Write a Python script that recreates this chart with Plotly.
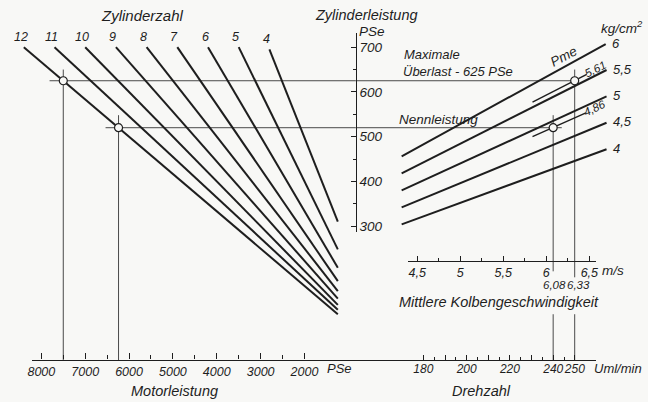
import plotly.graph_objects as go

# ---------------- data ----------------
cylinder_counts = [12, 11, 10, 9, 8, 7, 6, 5, 4]
cyl_start_motor = [8400, 7700, 7000, 6300, 5600, 4900, 4200, 3500, 2800]
cyl_start_power = [700, 700, 700, 700, 700, 700, 700, 700, 695]
cyl_end_motor = [1240, 1240, 1240, 1240, 1240, 1240, 1240, 1240, 1240]
cyl_end_power = [103, 113, 124, 138, 155, 177, 207, 248, 310]

pme_labels = ["6", "5,5", "5", "4,5", "4"]
pme_cm_start = [4.32, 4.32, 4.32, 4.32, 4.32]
pme_cm_end = [6.69, 6.70, 6.70, 6.70, 6.70]
pme_power_start = [456, 418, 380, 342, 304]
pme_power_end = [707, 649, 590, 531, 472]

op_labels = ["5,61", "4,86"]
op_cm_start = [5.84, 5.84]
op_cm_end = [6.47, 6.46]
op_power_start = [577, 500]
op_power_end = [639, 553]

op_power = [625, 520]          # Zylinderleistung PSe
op_motor = [7500, 6240]        # Motorleistung PSe
op_cm = [6.33, 6.08]           # m/s
op_rpm = [250, 240]            # U/min
op_cm_text = ["6,33", "6,08"]
op_top_power = [650, 548]      # where the thin vertical lines start

motor_ticks = [8000, 7000, 6000, 5000, 4000, 3000, 2000]
motor_minor = [7500, 6500, 5500, 4500, 3500, 2500]
rpm_ticks = [180, 190, 200, 210, 220, 230, 240, 250]
rpm_ticktext = ["180", " ", "200", " ", "220", " ", "240", "250"]
rpm_minor = [185, 195, 205, 215, 225, 235, 245]
cm_ticks = [4.5, 5, 5.5, 6, 6.5]
cm_ticktext = ["4,5", "5", "5,5", "6", "6,5"]
cm_minor = [4.75, 5.25, 5.75, 6.25]
power_ticks = [300, 400, 500, 600, 700]
power_minor = [350, 450, 550, 650]

# ---------------- layout calibration (value <-> pixel) ----------------
W, H = 648, 402
MOTOR_CAL = (8000, 37.7, 2000, 303.3)
POWER_CAL = (700, 47.3, 300, 226.7)
CM_CAL = (4.5, 417.0, 6.5, 590.8)
RPM_CAL = (180, 423.3, 250, 576.2)


def val(cal, p):
    v1, p1, v2, p2 = cal
    return v1 + (p - p1) * (v2 - v1) / (p2 - p1)


BG = "#f8f8f6"
INK = "#1e1e1e"
THIN = "#4a4a4a"
FONT = "Liberation Sans"


def tf(size):
    return dict(family=FONT, size=size, color=INK, style="italic")


fig = go.Figure()

# thin reference lines – left part
for m, p, top in zip(op_motor, op_power, op_top_power):
    fig.add_trace(go.Scatter(x=[m, m], y=[top, 0], mode="lines",
                             line=dict(color=THIN, width=1), xaxis="x", yaxis="y"))
AXIS_MOTOR = val(MOTOR_CAL, 355)
AXIS_CM = val(CM_CAL, 355)
h_left_start = [val(MOTOR_CAL, 46), val(MOTOR_CAL, 102.5)]
h_right_end = [6.38, 6.18]
for p, xs, xe in zip(op_power, h_left_start, h_right_end):
    fig.add_trace(go.Scatter(x=[xs, AXIS_MOTOR], y=[p, p], mode="lines",
                             line=dict(color=THIN, width=1), xaxis="x", yaxis="y"))
    fig.add_trace(go.Scatter(x=[AXIS_CM, xe], y=[p, p], mode="lines",
                             line=dict(color=THIN, width=1), xaxis="x2", yaxis="y"))
# thin vertical lines – right part (broken for the labels)
gap_top = [val(POWER_CAL, 278), val(POWER_CAL, 272)]
gap_bot = val(POWER_CAL, 315)
for c, top, gt in zip(op_cm, [650, 548], gap_top):
    fig.add_trace(go.Scatter(x=[c, c, None, c, c], y=[top, gt, None, gap_bot, 0], mode="lines",
                             line=dict(color=THIN, width=1), xaxis="x2", yaxis="y"))

# cylinder lines
for n, xs, ys, xe, ye in zip(cylinder_counts, cyl_start_motor, cyl_start_power,
                             cyl_end_motor, cyl_end_power):
    fig.add_trace(go.Scatter(x=[xs, xe], y=[ys, ye], mode="lines",
                             line=dict(color=INK, width=2), xaxis="x", yaxis="y"))
    fig.add_annotation(x=xs, y=ys, xref="x", yref="y", text=str(n), showarrow=False,
                       xanchor="center", yanchor="bottom", xshift=-3, yshift=1, font=tf(12.5))

# pme lines
for lab, cs, ce, ps, pe in zip(pme_labels, pme_cm_start, pme_cm_end,
                               pme_power_start, pme_power_end):
    fig.add_trace(go.Scatter(x=[cs, ce], y=[ps, pe], mode="lines",
                             line=dict(color=INK, width=2), xaxis="x2", yaxis="y"))
    fig.add_annotation(x=ce, y=pe, xref="x2", yref="y", text=lab, showarrow=False,
                       xanchor="left", yanchor="middle", xshift=4, yshift=1, font=tf(13))

for lab, cs, ce, ps, pe in zip(op_labels, op_cm_start, op_cm_end, op_power_start, op_power_end):
    fig.add_trace(go.Scatter(x=[cs, ce], y=[ps, pe], mode="lines",
                             line=dict(color=INK, width=1.4), xaxis="x2", yaxis="y"))

# operating points
fig.add_trace(go.Scatter(x=op_motor, y=op_power, mode="markers", xaxis="x", yaxis="y",
                         marker=dict(size=8, color=BG, line=dict(color=INK, width=1.2))))
fig.add_trace(go.Scatter(x=op_cm, y=op_power, mode="markers", xaxis="x2", yaxis="y",
                         marker=dict(size=8, color=BG, line=dict(color=INK, width=1.2))))

# dummy traces so that the visible scale axes are drawn
for xa, ya in [("x3", "y"), ("x4", "y"), ("x5", "y"), ("x", "y2")]:
    fig.add_trace(go.Scatter(x=[None], y=[None], xaxis=xa, yaxis=ya, mode="lines"))

# ---------------- text ----------------
def ptext(x, y, text, size, angle=0, xanchor="center"):
    fig.add_annotation(x=x / W, y=1 - y / H, xref="paper", yref="paper", text=text,
                       showarrow=False, xanchor=xanchor, yanchor="middle",
                       textangle=angle, font=tf(size))


ptext(140, 16, "Zylinderzahl", 15)
ptext(366, 15, "Zylinderleistung", 14.5)
ptext(371, 32, "PSe", 13.5)
ptext(402, 55, "Maximale", 13, xanchor="left")
ptext(401, 72, "Überlast - 625 PSe", 13, xanchor="left")
ptext(397, 120, "Nennleistung", 13.5, xanchor="left")
ptext(624, 27, "kg/cm<sup>2</sup>", 13.5)
ptext(565, 57, "Pme", 13.5, angle=-28)
ptext(597, 69, op_labels[0], 11.5, angle=-27)
ptext(596, 108, op_labels[1], 11.5, angle=-25)
ptext(556, 286, op_cm_text[1], 11.5)
ptext(580, 286, op_cm_text[0], 11.5)
ptext(615, 271, "m/s", 13.5)
ptext(500, 303, "Mittlere Kolbengeschwindigkeit", 14.5)
ptext(339, 369, "PSe", 13)
ptext(620, 369, "Uml/min", 13)
ptext(172, 392, "Motorleistung", 14.5)
ptext(482, 392, "Drehzahl", 14.5)

# ---------------- axes ----------------
AX_Y = (H - 360.5) / H
CM_Y = (H - 261.5) / H
hidden = dict(visible=False, fixedrange=True)
common_tick = dict(ticks="inside", tickcolor=INK, tickwidth=1,
                   tickangle=0, showgrid=False, zeroline=False, fixedrange=True)

fig.update_layout(
    width=W, height=H, margin=dict(l=0, r=0, t=0, b=0),
    paper_bgcolor=BG, plot_bgcolor="rgba(0,0,0,0)", showlegend=False,
    hovermode=False,
    xaxis=dict(domain=[0, 1], range=[val(MOTOR_CAL, 0), val(MOTOR_CAL, W)], **hidden),
    xaxis2=dict(domain=[0, 1], overlaying="x", range=[val(CM_CAL, 0), val(CM_CAL, W)], **hidden),
    yaxis=dict(domain=[0, 1], range=[val(POWER_CAL, H), val(POWER_CAL, 0)], **hidden),
    xaxis3=dict(domain=[28 / W, 598 / W], range=[val(MOTOR_CAL, 28), val(MOTOR_CAL, 598)],
                anchor="free", position=AX_Y, showline=True, linecolor=INK, linewidth=1.3,
                tickvals=motor_ticks, ticktext=[str(t) for t in motor_ticks], ticklen=6,
                tickfont=tf(12.5),
                minor=dict(tickvals=motor_minor, ticks="inside", ticklen=4, tickcolor=INK, tickwidth=1),
                **common_tick),
    xaxis4=dict(domain=[28 / W, 598 / W], range=[val(RPM_CAL, 28), val(RPM_CAL, 598)],
                anchor="free", position=AX_Y, showline=False,
                tickvals=rpm_ticks, ticktext=rpm_ticktext, ticklen=5,
                tickfont=tf(12),
                minor=dict(tickvals=rpm_minor, ticks="inside", ticklen=3, tickcolor=INK, tickwidth=1),
                **common_tick),
    xaxis5=dict(domain=[408 / W, 598 / W], range=[val(CM_CAL, 408), val(CM_CAL, 598)],
                anchor="free", position=CM_Y, showline=True, linecolor=INK, linewidth=1.3,
                tickvals=cm_ticks, ticktext=cm_ticktext, ticklen=5,
                tickfont=tf(12.5),
                minor=dict(tickvals=cm_minor, ticks="inside", ticklen=3, tickcolor=INK, tickwidth=1),
                **common_tick),
    yaxis2=dict(domain=[(H - 233) / H, (H - 33) / H],
                range=[val(POWER_CAL, 233), val(POWER_CAL, 33)],
                anchor="free", position=355 / W, side="right", showline=True,
                linecolor=INK, linewidth=1.3,
                tickvals=power_ticks, ticktext=[str(t) for t in power_ticks], ticklen=5,
                tickfont=tf(13.5),
                minor=dict(tickvals=power_minor, ticks="inside", ticklen=3, tickcolor=INK, tickwidth=1),
                **common_tick),
)

fig.write_html("out.html", config={"displayModeBar": False},
               post_script="document.body.style.margin='0';document.body.style.padding='0';")
